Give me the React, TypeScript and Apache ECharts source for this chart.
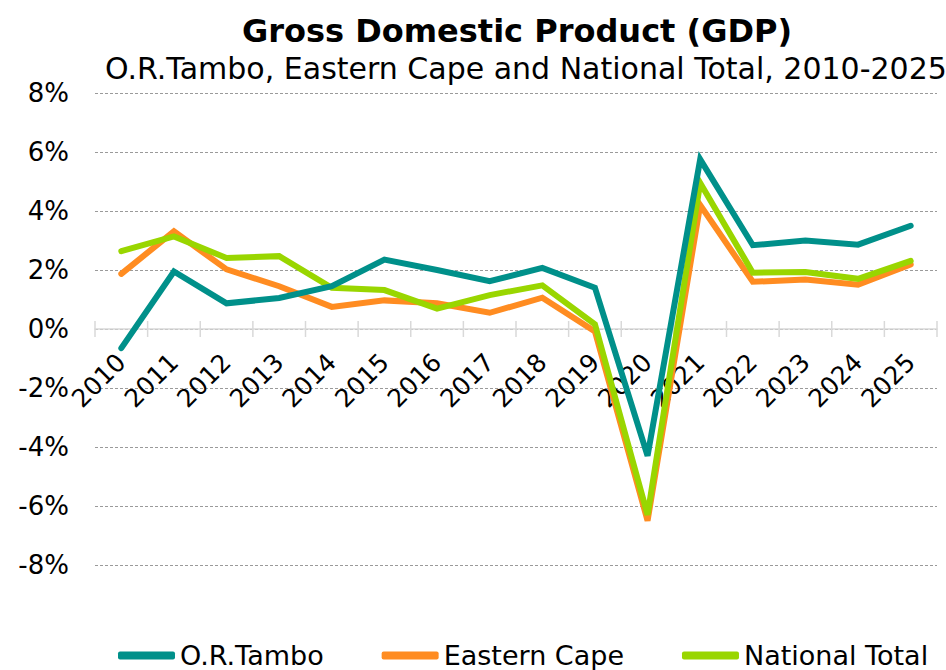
import React, { useEffect, useRef } from "react";
import * as echarts from "echarts";

const years = ["2010","2011","2012","2013","2014","2015","2016","2017","2018","2019","2020","2021","2022","2023","2024","2025"];
const orTambo = [-0.65, 1.95, 0.87, 1.05, 1.45, 2.35, 2.0, 1.62, 2.07, 1.4, -4.3, 5.75, 2.84, 3.0, 2.86, 3.5];
const easternCape = [1.87, 3.31, 2.02, 1.45, 0.75, 0.97, 0.87, 0.55, 1.06, -0.08, -6.5, 4.2, 1.6, 1.68, 1.5, 2.19];
const nationalTotal = [2.64, 3.14, 2.41, 2.47, 1.4, 1.32, 0.69, 1.15, 1.48, 0.16, -6.3, 4.95, 1.91, 1.93, 1.7, 2.31];
const yTicks = [-8, -6, -4, -2, 0, 2, 4, 6, 8];

const FONT = "DejaVu Sans";

export default function App() {
  const ref = useRef<HTMLDivElement>(null);
  useEffect(() => {
    const chart = echarts.init(ref.current!, null, { renderer: "svg" });
    const mk = (name: string, data: number[], color: string, z: number) => ({
      name,
      type: "line",
      data,
      symbol: "none",
      z,
      lineStyle: { color, width: 6, cap: "round", join: "miter" },
      itemStyle: { color },
    });
    const tickData = years.map((_, i) => [i, 0]);
    chart.setOption({
      animation: false,
      textStyle: { fontFamily: FONT },
      title: [
        {
          text: "Gross Domestic Product (GDP)",
          left: 512,
          textAlign: "center",
          top: 10,
          textStyle: { fontFamily: FONT, fontWeight: "bold", fontSize: 32, color: "#000" },
        },
        {
          text: "O.R.Tambo, Eastern Cape and National Total, 2010-2025",
          left: 521,
          textAlign: "center",
          top: 48,
          textStyle: { fontFamily: FONT, fontWeight: "normal", fontSize: 30, color: "#000" },
        },
      ],
      legend: {
        top: 637,
        left: 113,
        width: 833,
        padding: [5, 0, 5, 5],
        itemWidth: 57,
        itemHeight: 8,
        itemGap: 58,
        icon: "roundRect",
        textStyle: { fontFamily: FONT, fontSize: 27, color: "#000" },
        data: ["O.R.Tambo", "Eastern Cape", "National Total"],
      },
      grid: { left: 95, right: 9, top: 93, bottom: 105, containLabel: false },
      xAxis: {
        type: "category",
        data: years,
        boundaryGap: true,
        axisLine: { onZero: true, lineStyle: { color: "#d9d9d9", width: 1.5 } },
        axisTick: { show: false },
        axisLabel: { show: false },
        splitLine: { show: false },
      },
      yAxis: {
        type: "value",
        min: -8,
        max: 8,
        interval: 2,
        axisLine: { show: false },
        axisTick: { show: false },
        axisLabel: {
          fontFamily: FONT,
          fontSize: 26,
          color: "#000",
          margin: 26,
          formatter: (v: number) => (yTicks.includes(v) ? `${v}%` : ""),
        },
        splitLine: { lineStyle: { color: "#9a9a9a", type: [3, 2], width: 1 } },
      },
      series: [
        {
          type: "custom",
          silent: true,
          z: 0,
          clip: false,
          data: tickData,
          renderItem: (params: any, api: any) => {
            const idx = api.value(0);
            const c = api.coord([idx, 0]);
            const w = api.size([1, 0])[0];
            const style = { stroke: "#d9d9d9", lineWidth: 1.5 };
            const children: any[] = [
              { type: "line", shape: { x1: c[0] - w / 2, y1: c[1] - 8, x2: c[0] - w / 2, y2: c[1] + 8 }, style },
              {
                type: "text",
                x: c[0],
                y: c[1] + 29,
                rotation: Math.PI / 4,
                style: {
                  text: years[idx],
                  align: "right",
                  verticalAlign: "middle",
                  fontFamily: FONT,
                  fontSize: 25,
                  fill: "#000",
                },
              },
            ];
            if (idx === years.length - 1) {
              children.push({ type: "line", shape: { x1: c[0] + w / 2, y1: c[1] - 8, x2: c[0] + w / 2, y2: c[1] + 8 }, style });
            }
            return { type: "group", children };
          },
        },
        mk("Eastern Cape", easternCape, "#FF8C21", 2),
        mk("National Total", nationalTotal, "#99D600", 3),
        mk("O.R.Tambo", orTambo, "#00908A", 4),
      ],
    });
    return () => chart.dispose();
  }, []);
  return <div ref={ref} style={{ width: 946, height: 670, position: "absolute", left: 0, top: 0 }} />;
}
